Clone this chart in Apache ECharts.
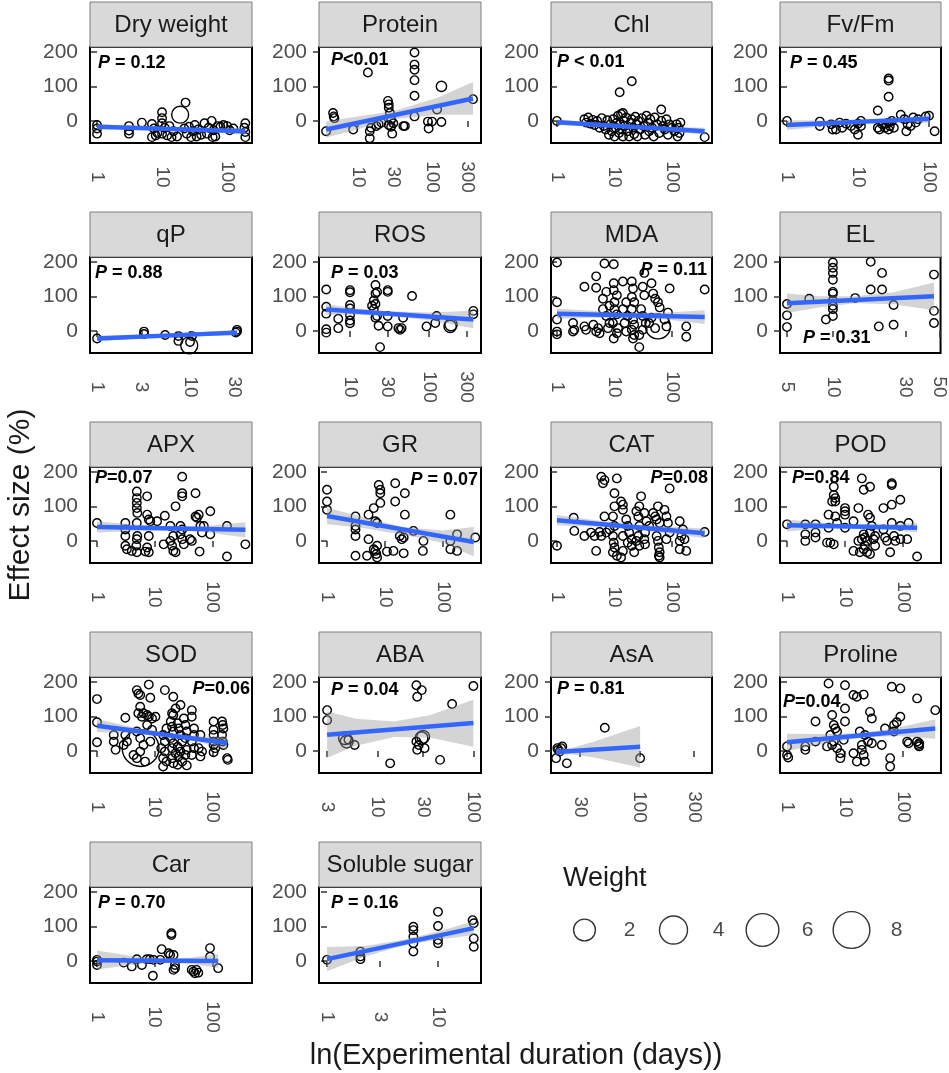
<!DOCTYPE html>
<html>
  <head>
    <meta charset="utf-8" />
    <title>Effect size vs experimental duration</title>
    <script src="https://cdn.jsdelivr.net/npm/echarts@6/dist/echarts.min.js"></script>
    <style>html, body { margin: 0; background: #fff; }</style>
  </head>
  <body>
    <div id="main" style="width: 949px;height:1073px;"></div>
    <script type="text/javascript">
      var F = '"Liberation Sans", Arial, sans-serif';

      // facet names, in reading order
      var panels = ['Dry weight', 'Protein', 'Chl', 'Fv/Fm', 'qP', 'ROS', 'MDA', 'EL',
                    'APX', 'GR', 'CAT', 'POD', 'SOD', 'ABA', 'AsA', 'Proline', 'Car', 'Soluble sugar'];
      var pTexts = ['P = 0.12', 'P<0.01', 'P < 0.01', 'P = 0.45', 'P = 0.88', 'P = 0.03', 'P = 0.11', 'P = 0.31',
                    'P=0.07', 'P = 0.07', 'P=0.08', 'P=0.84', 'P=0.06', 'P = 0.04', 'P = 0.81', 'P=0.04', 'P = 0.70', 'P = 0.16'];

      // x (days) tick labels and axis range of each facet
      var xTicks = [[1, 10, 100], [10, 30, 100, 300], [1, 10, 100], [1, 10, 100],
                    [1, 3, 10, 30], [10, 30, 100, 300], [1, 10, 100], [5, 10, 30, 50],
                    [1, 10, 100], [1, 10, 100], [1, 10, 100], [1, 10, 100],
                    [1, 10, 100], [3, 10, 30, 100], [30, 100, 300], [1, 10, 100],
                    [1, 10, 100], [1, 3, 10]];
      var xMin = [0.78, 2.97, 0.787, 0.797, 0.84, 4.05, 0.787, 4.5, 0.756, 0.728, 0.787, 0.757, 0.756, 2.47, 16.7, 0.757, 0.756, 0.847];
      var xMax = [242, 459, 496, 147.6, 46.4, 455, 496, 50.8, 486, 452, 496, 452, 486, 120, 431, 452, 486, 24.4];
      var yTicks = [0, 100, 200];

      // points: [days, effect size %, weight (omitted = small)]
      var dryWeight = [[1,-12],[1,-37],[1,-22],[3.1,-15],[3.1,-37],[3.1,-28],[4.9,-5],[7,-9],[7,-47],[7.5,-22],[8,-42],[8.5,-35],[10,25],[10,8],[10,-7],[10,-37],[11,-20],[12,-42],[13,-15],[14,-47],[15,-30],[17,-45],[19,18,0.9],[23,53],[22,-22],[24,-37],[26,-17],[28,-47],[30,-30],[32,-12],[34,-45],[36,-25],[40,-40],[45,-7],[49,-37],[52,-20],[58,0],[60,-47],[62,-27],[66,-45],[72,-15],[79,-17],[88,-12],[100,-15],[110,-27],[125,-22],[191,-7],[191,-32],[191,-47],[185,-20]];
      var protein = [[3.7,-30],[4.6,23],[4.8,8],[4.7,13],[8.6,-25],[13.6,140],[14.4,-30],[14.4,-50],[15,-20],[17.7,-15],[19,-10],[20.7,-5],[25.4,58],[26,48],[26,38],[27,23],[26,-12],[28,-17],[29,-37],[30,-7],[28,3],[41,-15],[43,-15],[58,198],[58,163],[58,148],[58,118],[58,73],[58,13],[88,-2],[90,-22],[100,-2],[117,33],[134,100,0.1],[134,-3],[358,63]];
      var chl = [[1,0],[3,5],[3.2,-5],[3.5,10],[3.8,-8],[4.2,3],[4.5,-12],[5,0],[5.5,-20],[6,8],[6.5,-15],[7,-25],[7.5,2],[8,-40],[8.5,-10],[9,-30],[9.5,5],[10,-45],[10.5,-20],[11,-5],[11.5,15],[12,-35],[12.3,83],[12.5,-10],[13,20],[13.5,-25],[14,-45],[14,23],[14.5,0],[15,-15],[16,10],[17,-30],[18,-45],[19,-5],[20,115],[20,5],[21,-20],[22,-38],[23,12],[24,-10],[25,-45],[26,0],[28,-25],[30,8],[32,-15],[34,-40],[36,15],[38,-5],[40,-30],[42,5],[45,-20],[48,-45],[50,10],[55,-10],[60,-35],[65,33],[65,0],[70,-15],[75,-25],[80,5],[85,-40],[90,-10],[100,-20],[110,-30],[120,-10],[125,-45],[130,-20],[135,-35],[140,-5],[370,-47]];
      var fvfm = [[1,0],[2.9,-2],[2.9,-15],[4.2,-10],[4.4,-25],[4.9,-25],[5.5,-5],[6,-20],[6.8,-8],[8,-15],[9,-25],[10,-40],[10,-8],[11,0],[11,-15],[19,30],[19,-20],[20,-25],[22,-10],[24,-20],[25,-8],[27,123],[27,117],[27,70],[27,-5],[27,-25],[28,-15],[30,0],[32,-20],[40,18],[45,5],[48,-30],[50,-10],[55,-15],[60,10],[65,-5],[70,5],[90,13],[100,15],[120,-30]];
      var qp = [[1,-22],[3.2,-2],[3.2,-9],[5.4,-12],[7.5,-15],[7.5,-29],[10,-32],[9.8,-42,0.9],[10.5,-15],[32,3],[32,-2],[31,-5]];
      var ros = [[5,120],[5,70],[5,50],[5,5],[5,-5],[7.1,35],[7.1,8],[10,118],[10,112],[10,75],[10,65],[10,45],[10,30],[10,22],[21,133],[22,113],[21,108],[20,88],[21,78],[19,73],[20,63],[22,43],[21,38],[23,15],[24,-47],[30,118],[30,113],[30,43],[30,13],[41,8],[43,3],[45,8],[47,38],[61,101],[93,13],[120,23],[125,43],[185,13,0.25],[190,18,0.25],[364,58],[364,48]];
      var mda = [[1,198],[1,83],[1,33],[1,-2],[1,-10],[1.9,23],[2,3],[1.9,-2],[3,128],[3,13],[3.2,3],[4.8,158],[4.8,125],[4.3,18],[5.2,8],[5.5,-7],[4.8,-2],[6.7,195],[9.7,193],[6.3,93],[7.2,113],[6.3,63],[7.2,43],[8.2,23],[7.7,8],[8.2,73],[9.7,138],[9.7,118],[11,103],[10,83],[10,63],[11,48],[9.4,23],[11.5,8],[11,-7],[9.7,-22],[14,143],[16,83],[14,63],[17,43],[15,23],[16,-2],[20,143],[21,123],[20,98],[22,83],[20,63],[21,33],[22,18],[20,3],[21,-22],[22,-12],[27,-47],[33,168],[31,128],[33,103],[29,63],[31,43],[35,23],[31,3],[27,-12],[44,138],[47,108],[51,93],[57,83],[61,68],[44,38],[51,8],[40,23],[57,13,2.9],[74,33],[80,13],[85,53],[91,123],[177,13],[177,-17],[370,120]];
      var el = [[5,78],[5,45],[5,11],[7,93],[10,198],[10,183],[10,168],[10,148],[10,113],[10,108],[10,88],[10,73],[10,63],[10,43],[9,33],[14,95],[17.7,200],[17.7,120],[21,168],[21,120],[20,13],[25,75],[25,18],[46,163],[46,58],[46,23]];
      var apx = [[1,52],[3.1,52],[3.1,33],[3.1,14],[3.1,-14],[3.3,-24],[4.9,143],[4.9,124],[4.9,110],[4.9,95],[5,81],[4.9,52],[5,14],[4.9,5],[4.8,-14],[4,-29],[4.9,-33],[7.4,129],[7.4,76],[7.9,62],[8.4,57],[7.9,14],[7.4,-19],[6.9,-31],[7.9,-33],[11,57],[15,73],[14.3,-10],[18.7,0],[20,-14],[21,-29],[23,-33],[18.7,43],[21,14],[23,100],[30,186],[30,138],[30,129],[28,43],[30,33],[28,19],[30,5],[32,-10],[41,5],[44,0],[51,138],[51,71],[54,67],[58,76],[62,43],[71,43],[66,24],[60,-31],[92,86],[92,19],[179,43],[179,-45],[373,-10]];
      var gr = [[1,148],[1,114],[1,90],[3.1,71],[3.1,43],[3.1,33],[3.1,14],[3.1,-43],[4.9,-43],[5.2,76],[5.2,5],[7.8,162],[8.3,138],[8.3,148],[8.3,110],[6.4,95],[6.8,57],[7.3,52],[6.4,-24],[7.3,-14],[6.8,-29],[7.3,-48],[7.1,-38],[10.8,-31],[14,-29],[21,-36],[15,167],[15,114],[22,138],[22,76],[18,14],[21,10],[19.5,5],[31,29],[46,0],[45,-29],[134,76],[134,0],[134,-24],[175,19],[175,-29],[360,10]];
      var cat = [[1,-14],[1.95,67],[2,29],[3,14],[3.9,24],[4.5,14],[4.8,-29],[5.5,26],[5.9,14],[5.9,186],[6.3,167],[6.7,176],[11,181],[6.7,71],[7.2,24],[8.2,33],[10,138],[10,100],[9.4,71],[10,43],[9.4,14],[9.7,-5],[10,-19],[9.4,-33],[11,-43],[13,114],[14,105],[14,90],[14,14],[14,-29],[13,-48],[16,62],[17,43],[18,24],[20,5],[17,-5],[20,-14],[22,-33],[24,86],[27,100],[29,129],[26,71],[27,43],[26,14],[24,0],[27,-14],[33,81],[36,57],[40,43],[34,24],[33,5],[34,-10],[47,81],[51,71],[57,100],[54,62],[61,52],[54,14],[57,0],[59,-19],[61,-33],[59,-43],[61,-48],[91,152],[74,90],[80,71],[85,52],[91,24],[80,5],[136,57],[155,33],[146,14],[136,0],[165,5],[136,-24],[177,-29],[370,26]];
      var pod = [[1,48],[2.07,48],[2.07,19],[2.07,0],[3.1,48],[3.1,24],[3.1,10],[5.2,76],[5.2,38],[4.9,-5],[5.6,-5],[6.4,-10],[6.4,157],[6.4,133],[6.8,124],[6,114],[6.8,114],[6.8,71],[7.3,52],[10,95],[10,86],[10,76],[10,38],[14,57],[17,95],[19.5,181],[21,148],[27,157],[14,-29],[17,0],[18,-33],[19.5,5],[21,-24],[22,-14],[24,0],[22,10],[21,19],[24,-33],[27,-38],[25,76],[27,67],[29,43],[27,24],[31,5],[33,14],[33,-14],[46,95],[46,33],[49,10],[53,0],[64,167],[64,162],[64,105],[64,52],[60,-33],[70,14],[74,0],[90,119],[90,43],[90,5],[125,52],[118,5],[175,-45]];
      var sod = [[1,150],[1,83],[1,25],[1.95,46],[1.95,27],[2.1,3],[3.1,96],[3.1,46],[3.3,27],[2.9,17],[4.9,176],[5.2,166],[5.6,162],[7.9,192],[8.4,154],[5.2,109],[5.6,128],[6,99],[6.4,109],[7.4,104],[7.9,99],[9,94],[10.3,99],[5.7,8,8],[4.9,56],[5.6,37],[6.4,17],[5.6,-2],[4.9,-21],[6.8,-31],[4.3,-12],[7.4,75],[9,61],[8.4,27],[15,176],[21,157],[28,133],[23,123],[21,104],[20,109],[16,65],[14,46],[15,27],[13,8],[15,-2],[14,-21],[16,-31],[14,-45],[19,85],[20,70],[21,56],[19,37],[21,22],[20,8],[23,-7],[20,-21],[21,-36],[25,80],[26,65],[28,46],[30,27],[25,12],[28,-2],[26,-16],[30,-31],[25,-40],[32,94],[34,75],[36,56],[34,37],[36,3],[34,-12],[36,-42],[44,118],[44,99],[48,65],[48,46],[44,27],[48,8],[44,-12],[62,46],[58,8],[66,-2],[62,-16],[105,85],[105,61],[105,46],[105,27],[105,17],[112,8],[105,-4],[147,85],[151,75],[155,65],[147,46],[151,27],[155,17],[180,-21],[185,-26]];
      var aba = [[3,118],[3,89],[4.6,37,0.3],[4.8,27,0.3],[5,32],[5.8,17],[13.6,-36],[25.5,190],[26,157],[29,176],[25.5,27],[26,3],[27,17],[28.8,37,0.3],[30,41,0.3],[31,8],[45,-26],[60,136],[100,188]];
      var asa = [[19,8],[19.3,3],[19.9,-2],[20.5,8],[21,13],[18.5,-21],[23,-36],[49.5,67],[101,-21]];
      var proline = [[1,13],[1,-12],[1.05,-19],[2.07,13],[2.07,3],[3.1,85],[3.1,27],[5.2,195],[6,104],[6.4,75],[6.8,65],[7.3,56],[5.6,46],[6,17],[4.9,13],[6.4,27],[7.3,8],[8.3,-7],[8.3,-21],[10,190],[10,123],[10,85],[9.5,32],[14,162],[16,157],[21,163],[14,-7],[16,-31],[19.5,3],[22,-31],[21,-12],[18,56],[22,46],[25,27],[29,22],[19.5,17],[27,113],[29,94],[43,17],[49,65],[60,-21],[60,-45],[64,186],[90,181],[70,56],[78,83],[90,99],[70,75],[118,27],[125,22],[175,152],[175,27],[185,17],[190,13],[190,22],[360,118]];
      var car = [[1,3],[1,-2],[1,-12],[2.9,-5],[4,-16],[4.9,5],[6,-12],[7.3,5],[8.2,5],[9.5,3],[9.3,-43],[13.2,34],[12.5,3],[17.4,22],[18.5,17],[19.5,80],[19.5,75],[21.2,17],[22.5,-21],[21.2,-26],[22.5,-12],[43.8,-26],[47,-31],[50,-36],[53,-26],[57,-34],[91,37],[91,12],[126,-21]];
      var sugar = [[1,3],[2,27],[2,13],[2,5],[6,99],[6,89],[6,70],[6,51],[6,27],[10,142],[10,101],[10,61],[10,51],[20.5,118],[21,109],[21,65],[21,41]];
      var pointSets = [dryWeight, protein, chl, fvfm, qp, ros, mda, el, apx, gr, cat, pod, sod, aba, asa, proline, car, sugar];

      // fitted line ends: [x0, y0, x1, y1]
      var fitLines = [[1,-17,191,-30],[3.7,-25,358,65],[1,-4,370,-30],[1,-12,100,6],
                      [1,-22,32,-5],[5,62,364,33],[1,50,370,40],[5,80,46,100],
                      [1,40,373,32],[1,72,340,-3],[1,60,370,22],[1,45,175,38],
                      [1,73,180,23],[3,47,100,81],[18.5,-3,101,12],[1,25,360,65],
                      [1,2,126,0],[1,5,21,95]];
      // confidence band: [x, lower, upper]
      var bands = [
        [[1,-25,-9],[4,-25,-15],[14,-28,-19],[50,-32,-22],[191,-40,-20]],
        [[3.7,-48,-2],[8,-30,10],[30,5,28],[120,18,68],[358,18,113]],
        [[1,-12,4],[5,-17,-5],[20,-22,-12],[80,-29,-17],[370,-40,-20]],
        [[1,-26,2],[4,-14,1],[12,-7,2],[40,-4,8],[100,-5,17]],
        [[1,-30,-14],[6,-16,-9],[32,-13,3]],
        [[5,47,77],[12,47,65],[30,43,57],[100,31,53],[364,8,58]],
        [[1,35,65],[4,38,58],[15,39,52],[80,33,53],[370,20,60]],
        [[5,52,108],[8,68,100],[14,80,100],[25,77,112],[46,60,140]],
        [[1,24,56],[5,29,47],[20,31,41],[80,25,43],[373,10,54]],
        [[1,48,96],[4,38,70],[20,18,40],[100,-5,30],[340,-45,40]],
        [[1,45,75],[5,41,59],[20,34,47],[80,22,42],[370,8,36]],
        [[1,28,62],[5,35,51],[15,36,47],[60,32,48],[175,24,52]],
        [[1,55,92],[5,49,66],[20,39,49],[70,22,42],[180,5,42]],
        [[3,-20,114],[6,15,93],[15,40,85],[35,39,103],[100,12,148]],
        [[18.5,-14,8],[25,-10,8],[40,-19,27],[101,-48,72]],
        [[1,0,50],[5,23,49],[20,39,52],[80,43,67],[360,35,92]],
        [[1,-25,30],[4,-11,14],[12,-5,8],[40,-8,9],[126,-20,20]],
        [[1,-30,40],[2.2,13,43],[5,45,62],[10,61,85],[21,75,115]]
      ];
      var weightKeys = [2, 4, 6, 8];

      // layout (pixels)
      var colLeft = [90, 319, 551, 780];
      var colWidth = [162, 162, 161, 161];
      var rowTop = [47, 257, 467, 677, 887];
      var plotH = 96, stripH = 45;
      // where the P label sits: [anchor, dx, dy]
      var pPos = [['l',8,16],['l',12,13],['l',6,15],['l',10,16],['l',5,16],['l',12,16],['r',-5,13],['b',23,-15],
                  ['l',5,11],['r',-3,13],['r',-4,11],['l',12,11],['r',-2,12],['l',12,13],['l',6,12],['l',3,25],
                  ['l',8,16],['l',12,16]];

      function lg(v) { return Math.log10(v); }
      function sizeOf(v) { return 7 + 10.5 * Math.sqrt(v[2]); }
      function bandRender(rows) {
        return function (params, api) {
          if (params.dataIndex !== 0) return null;
          var up = rows.map(function (r) { return api.coord([r[0], r[2]]); });
          var lo = rows.map(function (r) { return api.coord([r[0], r[1]]); }).reverse();
          return { type: 'polygon', shape: { points: up.concat(lo) },
                   style: { fill: 'rgba(153,153,153,0.42)' } };
        };
      }

      var grids = [], xAxes = [], yAxes = [], series = [], graphics = [];
      panels.forEach(function (name, i) {
        var col = i % 4, row = Math.floor(i / 4);
        var left = colLeft[col], top = rowTop[row], w = colWidth[col];
        grids.push({ left: left, top: top, width: w, height: plotH, show: true,
                     borderColor: '#000', borderWidth: 2, backgroundColor: '#fff' });
        var ticks = xTicks[i].map(lg);
        xAxes.push({
          type: 'value', gridIndex: i, min: lg(xMin[i]), max: lg(xMax[i]),
          axisLine: { show: false }, splitLine: { show: false },
          axisTick: { show: true, customValues: ticks, length: 6, lineStyle: { color: '#333', width: 1.5 } },
          axisLabel: { customValues: ticks, rotate: -90, align: 'center', margin: 34,
                       fontSize: 19, fontFamily: F, color: '#4d4d4d',
                       formatter: function (v) { return String(Math.round(Math.pow(10, v))); } }
        });
        yAxes.push({
          type: 'value', gridIndex: i, min: -64, max: 214,
          axisLine: { show: false }, splitLine: { show: false },
          axisTick: { show: true, customValues: yTicks, length: 6, lineStyle: { color: '#333', width: 1.5 } },
          axisLabel: { customValues: yTicks, margin: 12, fontSize: 21, fontFamily: F, color: '#4d4d4d' }
        });
        series.push({
          type: 'scatter', xAxisIndex: i, yAxisIndex: i, silent: true, z: 2,
          data: pointSets[i].map(function (p) { return [lg(p[0]), p[1], p[2] || 0.02]; }),
          symbolSize: sizeOf,
          itemStyle: { color: 'rgba(0,0,0,0)', borderColor: '#000', borderWidth: 1.4, opacity: 1 }
        });
        var bandRows = bands[i].map(function (r) { return [lg(r[0]), r[1], r[2]]; });
        series.push({
          type: 'custom', xAxisIndex: i, yAxisIndex: i, silent: true, z: 3, clip: true,
          data: bandRows, encode: { x: 0, y: [1, 2] }, renderItem: bandRender(bandRows)
        });
        var f = fitLines[i];
        series.push({
          type: 'line', xAxisIndex: i, yAxisIndex: i, silent: true, z: 4, symbol: 'none',
          data: [[lg(f[0]), f[1]], [lg(f[2]), f[3]]],
          lineStyle: { color: '#3366FF', width: 4.5 }
        });

        // facet strip
        graphics.push({ type: 'rect', shape: { x: left, y: top - stripH, width: w, height: stripH },
                        style: { fill: '#d9d9d9', stroke: '#7f7f7f', lineWidth: 1 } });
        graphics.push({ type: 'text', x: left + w / 2, y: top - stripH / 2 + 1,
                        style: { text: name, font: '24px ' + F, fill: '#1a1a1a',
                                 textAlign: 'center', textVerticalAlign: 'middle' } });
        // P value
        var pp = pPos[i], tx, ty, al = 'left';
        if (pp[0] === 'r') { tx = left + w + pp[1]; ty = top + pp[2]; al = 'right'; }
        else if (pp[0] === 'b') { tx = left + pp[1]; ty = top + plotH + pp[2]; }
        else { tx = left + pp[1]; ty = top + pp[2]; }
        graphics.push({ type: 'text', x: tx, y: ty, z: 100,
                        style: { text: '{i|P}{n|' + pTexts[i].slice(1) + '}', textAlign: al, textVerticalAlign: 'middle',
                                 fill: '#000',
                                 rich: { i: { fontStyle: 'italic', fontWeight: 'bold', fontSize: 18, fontFamily: F, fill: '#000' },
                                         n: { fontWeight: 'bold', fontSize: 18, fontFamily: F, fill: '#000' } } } });
      });

      // size legend drawn as its own small scatter
      var li = panels.length;
      grids.push({ left: 540, top: 920, width: 356, height: 20, show: false });
      xAxes.push({ type: 'value', gridIndex: li, min: 0, max: 4, show: false });
      yAxes.push({ type: 'value', gridIndex: li, min: -1, max: 1, show: false });
      series.push({
        type: 'scatter', xAxisIndex: li, yAxisIndex: li, silent: true,
        data: weightKeys.map(function (wk, k) { return [k + 0.5, 0, wk]; }),
        symbolSize: sizeOf,
        itemStyle: { color: 'rgba(0,0,0,0)', borderColor: '#000', borderWidth: 1.4 },
        label: { show: true, position: 'inside', offset: [45, 0], fontSize: 21, fontFamily: F, color: '#1a1a1a',
                 formatter: function (p) { return String(p.value[2]); } }
      });
      graphics.push({ type: 'text', x: 563, y: 879,
                      style: { text: 'Weight', font: '27px ' + F, fill: '#1a1a1a', textAlign: 'left', textVerticalAlign: 'middle' } });
      graphics.push({ type: 'text', x: 516, y: 1056,
                      style: { text: 'ln(Experimental duration (days))', font: '29px ' + F, fill: '#1a1a1a',
                               textAlign: 'center', textVerticalAlign: 'middle' } });
      graphics.push({ type: 'text', x: 21, y: 505, rotation: Math.PI / 2,
                      style: { text: 'Effect size (%)', font: '30px ' + F, fill: '#1a1a1a',
                               textAlign: 'center', textVerticalAlign: 'middle' } });

      var myChart = echarts.init(document.getElementById('main'));
      myChart.setOption({
        animation: false,
        backgroundColor: '#fff',
        grid: grids,
        xAxis: xAxes,
        yAxis: yAxes,
        series: series,
        graphic: { elements: graphics }
      });
    </script>
  </body>
</html>
